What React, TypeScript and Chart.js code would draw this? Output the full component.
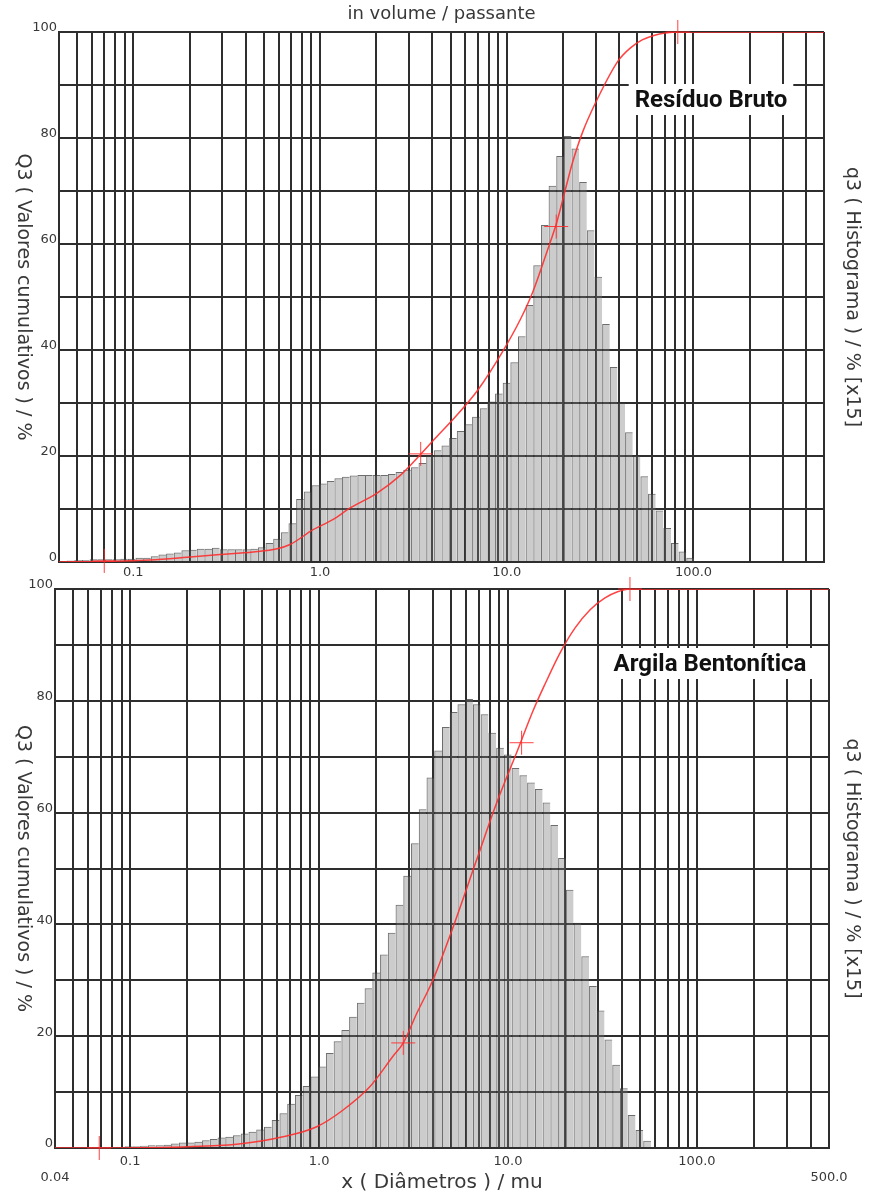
import React, { useEffect, useRef } from 'react';
import { Chart, registerables } from 'chart.js';

Chart.register(...registerables);

// ---- categories: size classes (bin centres, µm) ----
const CLASS_LABELS = [
  '0.0419', '0.0461', '0.0506', '0.0557', '0.0612', '0.0672', '0.0739', '0.0812', '0.0892', '0.0980',
  '0.108', '0.118', '0.130', '0.143', '0.157', '0.173', '0.190', '0.208', '0.229', '0.252',
  '0.277', '0.304', '0.334', '0.367', '0.404', '0.443', '0.487', '0.535', '0.588', '0.647',
  '0.711', '0.781', '0.858', '0.943', '1.04', '1.14', '1.25', '1.38', '1.51', '1.66',
  '1.83', '2.01', '2.20', '2.42', '2.66', '2.93', '3.21', '3.53', '3.88', '4.27',
  '4.69', '5.15', '5.66', '6.22', '6.84', '7.51', '8.26', '9.07', '9.97', '11.0',
  '12.0', '13.2', '14.5', '16.0', '17.6', '19.3', '21.2', '23.3', '25.6', '28.1',
  '30.9', '34.0', '37.4', '41.1', '45.1', '49.6', '54.5', '59.9', '65.8', '72.3',
  '79.5', '87.3', '96.0', '105', '116', '127', '140', '154', '169', '186',
  '204', '224', '246', '271', '298', '327', '359', '395', '434', '477',
];

// ---- axis ticks ----
const X_GRID = [
  0.04, 0.05, 0.06, 0.07, 0.08, 0.09,
  0.1, 0.2, 0.3, 0.4, 0.5, 0.6, 0.7, 0.8, 0.9,
  1, 2, 3, 4, 5, 6, 7, 8, 9,
  10, 20, 30, 40, 50, 60, 70, 80, 90,
  100, 200, 300, 400, 500,
];
const X_MAIN_LABELS: [number, string][] = [[0.1, '0.1'], [1, '1.0'], [10, '10.0'], [100, '100.0']];
const X_END_LABELS: [number, string][] = [[0.04, '0.04'], [500, '500.0']];
const Y_LABEL_STEP = 20;

// ---- texts ----
const TITLE_TOP = 'in volume / passante';
const Y_LEFT_TITLE = 'Q3 ( Valores cumulativos ) / %';
const Y_RIGHT_TITLE = 'q3 ( Histograma ) / % [x15]';
const X_TITLE = 'x ( Diâmetros ) / mu';

// ---- series: Resíduo Bruto ----
const RESIDUO_NAME = 'Resíduo Bruto';
const RESIDUO_HIST = [
  0.2, 0.3, 0.4, 0.4, 0.5, 0.5, 0.5, 0.5, 0.6, 0.6,
  0.8, 0.8, 1.1, 1.4, 1.6, 1.8, 2.2, 2.3, 2.5, 2.5,
  2.7, 2.4, 2.4, 2.4, 2.4, 2.5, 2.8, 3.6, 4.4, 5.6,
  7.3, 11.9, 13.3, 14.5, 14.8, 15.3, 15.8, 16.1, 16.3, 16.4,
  16.4, 16.4, 16.4, 16.6, 17.0, 17.4, 17.9, 18.7, 20.0, 21.1,
  22.0, 23.4, 24.7, 26.0, 27.4, 29.0, 30.3, 31.8, 33.8, 37.7,
  42.6, 48.5, 56.0, 63.6, 71.0, 76.6, 80.4, 78.0, 71.7, 62.6,
  53.8, 44.9, 36.8, 30.0, 24.5, 20.1, 16.2, 12.9, 9.7, 6.4,
  3.6, 2.0, 0.8, 0.2, 0, 0, 0, 0, 0, 0,
  0, 0, 0, 0, 0, 0, 0, 0, 0, 0,
];
const RESIDUO_CUM_X = [0.04, 0.069, 0.123, 0.194, 0.291, 0.438, 0.589, 0.691, 0.918, 1.17, 1.45, 2.02, 2.68, 3.43, 4.13, 5.28, 7.02, 9.43, 11.8, 13.8, 16.4, 18.6, 20.5, 22.6, 25.6, 30.8, 39.4, 46.0, 53.1, 62.0, 70.5, 82.8, 500];
const RESIDUO_CUM_Y = [0, 0.1, 0.4, 0.9, 1.4, 1.9, 2.5, 3.3, 6.1, 8.0, 10.2, 13.0, 16.3, 20.2, 23.3, 27.3, 32.5, 39.5, 45.7, 51.0, 58.5, 64.3, 70.0, 75.6, 81.3, 87.6, 94.5, 97.0, 98.5, 99.4, 99.8, 100, 100];
const RESIDUO_MARK_X = [0.0699, 3.46, 18.4, 82.4];
const RESIDUO_MARK_Y = [0.2, 20.4, 63.3, 100];

// ---- series: Argila Bentonítica ----
const ARGILA_NAME = 'Argila Bentonítica';
const ARGILA_HIST = [
  0, 0, 0, 0, 0, 0, 0, 0.1, 0.2, 0.3,
  0.3, 0.4, 0.5, 0.5, 0.6, 0.8, 1.0, 1.0, 1.1, 1.4,
  1.6, 1.9, 2.0, 2.3, 2.6, 2.9, 3.3, 3.8, 5.0, 6.2,
  7.9, 9.5, 11.1, 12.8, 14.6, 17.0, 19.1, 21.1, 23.5, 26.0,
  28.6, 31.4, 34.6, 38.5, 43.5, 48.7, 54.5, 60.6, 66.3, 71.1,
  75.3, 78.0, 79.4, 80.3, 79.4, 77.6, 74.3, 71.6, 70.4, 68.0,
  66.7, 65.4, 64.2, 61.8, 57.8, 51.9, 46.2, 40.3, 34.3, 29.0,
  24.6, 19.4, 14.9, 10.7, 5.9, 3.2, 1.3, 0, 0, 0,
  0, 0, 0, 0, 0, 0, 0, 0, 0, 0,
  0, 0, 0, 0, 0, 0, 0, 0, 0, 0,
];
const ARGILA_CUM_X = [0.04, 0.068, 0.19, 0.366, 0.644, 0.971, 1.34, 1.86, 2.46, 2.79, 3.29, 4.01, 4.93, 6.83, 8.72, 11.1, 13.6, 15.7, 18.8, 22.6, 27.2, 32.6, 38.0, 44.2, 500];
const ARGILA_CUM_Y = [0, 0, 0.2, 0.65, 2.0, 3.8, 6.8, 11.0, 16.4, 18.8, 24.1, 30.1, 38.0, 51.6, 61.8, 70.7, 78.3, 83.0, 88.5, 93.0, 96.3, 98.4, 99.5, 100, 100];
const ARGILA_MARK_X = [0.0686, 2.79, 11.8, 44.2];
const ARGILA_MARK_Y = [0, 18.8, 72.5, 100];

// ---- styles ----
const FONT = "'DejaVu Sans', sans-serif";
const TEXT = '#383838';
const GRID = '#2e2e2e';
const GRID_W = 2;
const RED = 'rgba(255,45,45,0.9)';
const BAR_FILL = 'rgba(120,120,120,0.38)';
const BAR_EDGE = 'rgba(60,60,60,0.75)';

type PanelSpec = {
  top: number;
  width: number;
  height: number;
  area: { left: number; top: number; right: number; bottom: number };
  showTitle: boolean;
  showEnds: boolean;
  showXTitle: boolean;
  xTickPad: number;
  name: string;
  nameX: number;
  nameY: number;
  hist: number[];
  cumX: number[];
  cumY: number[];
  markX: number[];
  markY: number[];
};

const leftTitlePlugin = {
  id: 'leftTitle',
  afterDraw(chart: any) {
    const { ctx, chartArea } = chart;
    ctx.save();
    ctx.translate(23, (chartArea.top + chartArea.bottom) / 2);
    ctx.rotate(Math.PI / 2);
    ctx.font = `19px ${FONT}`;
    ctx.fillStyle = TEXT;
    ctx.textAlign = 'center';
    ctx.textBaseline = 'middle';
    ctx.fillText(Y_LEFT_TITLE, 0, 0);
    ctx.restore();
  },
};

const makeNamePlugin = (name: string, cx: number, cy: number) => ({
  id: 'nameBox',
  afterDatasetsDraw(chart: any) {
    const { ctx } = chart;
    ctx.save();
    ctx.font = 'bold 24px Roboto, sans-serif';
    const w = ctx.measureText(name).width;
    ctx.fillStyle = '#ffffff';
    ctx.fillRect(cx - w / 2 - 6, cy - 16, w + 12, 31);
    ctx.fillStyle = '#111111';
    ctx.textAlign = 'center';
    ctx.textBaseline = 'middle';
    ctx.fillText(name, cx, cy + 1);
    ctx.restore();
  },
});

function buildConfig(p: PanelSpec): any {
  const leftW = p.area.left;
  const rightW = p.width - p.area.right;
  const bottomH = p.height - p.area.bottom;
  const binWidth = (p.area.right - p.area.left) / CLASS_LABELS.length;
  const near = (a: number, b: number) => Math.abs(a - b) < b * 1e-6;
  const labelFor = (v: number): any => {
    for (const [t, s] of X_MAIN_LABELS) if (near(v, t)) return s;
    if (p.showEnds) for (const [t, s] of X_END_LABELS) if (near(v, t)) return ['', s];
    return '';
  };
  const titleLH = 18 * 1.2;
  return {
    type: 'line',
    data: {
      labels: CLASS_LABELS,
      datasets: [
        {
          type: 'bar',
          label: p.name + ' q3',
          data: p.hist,
          xAxisID: 'xc',
          yAxisID: 'y',
          backgroundColor: BAR_FILL,
          borderColor: BAR_EDGE,
          borderWidth: { top: 1, left: 1, right: 0, bottom: 0 },
          borderSkipped: 'bottom',
          barThickness: binWidth,
          barPercentage: 1,
          categoryPercentage: 1,
          grouped: false,
          inflateAmount: 0,
          order: 3,
        },
        {
          type: 'line',
          label: p.name + ' Q3',
          data: p.cumX.map((x, i) => ({ x, y: p.cumY[i] })),
          xAxisID: 'x',
          yAxisID: 'y',
          borderColor: RED,
          borderWidth: 1.5,
          pointRadius: 0,
          fill: false,
          cubicInterpolationMode: 'monotone',
          order: 2,
        },
        {
          type: 'line',
          label: p.name + ' marcas',
          data: p.markX.map((x, i) => ({ x, y: p.markY[i] })),
          xAxisID: 'x',
          yAxisID: 'y',
          showLine: false,
          pointStyle: 'cross',
          pointRadius: 12,
          pointBorderColor: RED,
          pointBackgroundColor: RED,
          pointBorderWidth: 1,
          clip: false,
          order: 1,
        },
      ],
    },
    options: {
      responsive: false,
      animation: false,
      devicePixelRatio: 1,
      events: [],
      layout: { padding: { top: p.showTitle ? 0 : p.area.top, left: 0, right: 0, bottom: 0 } },
      datasets: { bar: { barPercentage: 1, categoryPercentage: 1 } },
      plugins: {
        legend: { display: false },
        tooltip: { enabled: false },
        title: {
          display: p.showTitle,
          text: TITLE_TOP,
          fullSize: false,
          color: TEXT,
          font: { family: FONT, size: 18, weight: 'normal' },
          padding: { top: 4, bottom: p.area.top - 4 - titleLH },
        },
      },
      scales: {
        x: {
          type: 'logarithmic',
          position: 'bottom',
          min: 0.04,
          max: 500,
          offset: false,
          afterBuildTicks: (s: any) => {
            s.ticks = X_GRID.map((v) => ({ value: v }));
          },
          afterFit: (s: any) => {
            s.height = bottomH;
          },
          grid: { color: GRID, lineWidth: GRID_W, drawTicks: false, offset: false },
          border: { display: true, color: GRID, width: GRID_W },
          ticks: {
            autoSkip: false,
            maxRotation: 0,
            minRotation: 0,
            padding: p.xTickPad,
            color: TEXT,
            font: { family: FONT, size: 13 },
            callback: (v: any) => labelFor(Number(v)),
          },
          title: {
            display: p.showXTitle,
            text: X_TITLE,
            color: TEXT,
            font: { family: FONT, size: 20 },
            padding: { top: 0, bottom: 2 },
          },
        },
        xc: {
          type: 'category',
          display: false,
          offset: true,
          grid: { offset: true },
          ticks: { autoSkip: false },
        },
        y: {
          type: 'linear',
          position: 'left',
          min: 0,
          max: 100,
          afterFit: (s: any) => {
            s.width = leftW;
          },
          grid: { color: GRID, lineWidth: GRID_W, drawTicks: false },
          border: { display: true, color: GRID, width: GRID_W },
          ticks: {
            stepSize: 10,
            padding: 2,
            labelOffset: -4,
            color: TEXT,
            font: { family: FONT, size: 13 },
            callback: (v: any) => (Number(v) % Y_LABEL_STEP === 0 ? String(v) : ''),
          },
        },
        y2: {
          type: 'linear',
          position: 'right',
          min: 0,
          max: 100,
          afterFit: (s: any) => {
            s.width = rightW;
          },
          grid: { display: false, drawTicks: false },
          border: { display: false },
          ticks: { display: false },
          title: {
            display: true,
            text: Y_RIGHT_TITLE,
            color: TEXT,
            font: { family: FONT, size: 19 },
            padding: { top: 6.6, bottom: 0 },
          },
        },
      },
    },
    plugins: [leftTitlePlugin, makeNamePlugin(p.name, p.nameX, p.nameY)],
  };
}

const TOP_PANEL: PanelSpec = {
  top: 0,
  width: 870,
  height: 600,
  area: { left: 59, top: 32, right: 824, bottom: 562 },
  showTitle: true,
  showEnds: false,
  showXTitle: false,
  xTickPad: 3,
  name: RESIDUO_NAME,
  nameX: 711,
  nameY: 100,
  hist: RESIDUO_HIST,
  cumX: RESIDUO_CUM_X,
  cumY: RESIDUO_CUM_Y,
  markX: RESIDUO_MARK_X,
  markY: RESIDUO_MARK_Y,
};

const BOTTOM_PANEL: PanelSpec = {
  top: 570,
  width: 870,
  height: 627,
  area: { left: 55, top: 19, right: 829, bottom: 578 },
  showTitle: false,
  showEnds: true,
  showXTitle: true,
  xTickPad: 6,
  name: ARGILA_NAME,
  nameX: 710,
  nameY: 94,
  hist: ARGILA_HIST,
  cumX: ARGILA_CUM_X,
  cumY: ARGILA_CUM_Y,
  markX: ARGILA_MARK_X,
  markY: ARGILA_MARK_Y,
};

function Panel({ spec }: { spec: PanelSpec }) {
  const ref = useRef<HTMLCanvasElement>(null);
  useEffect(() => {
    if (!ref.current) return;
    const chart = new Chart(ref.current, buildConfig(spec));
    return () => chart.destroy();
  }, [spec]);
  return (
    <canvas
      ref={ref}
      width={spec.width}
      height={spec.height}
      style={{ position: 'absolute', left: 0, top: spec.top, width: spec.width, height: spec.height }}
    />
  );
}

export default function App() {
  return (
    <div style={{ position: 'absolute', left: 0, top: 0, width: 870, height: 1197, background: '#ffffff' }}>
      <Panel spec={TOP_PANEL} />
      <Panel spec={BOTTOM_PANEL} />
    </div>
  );
}
